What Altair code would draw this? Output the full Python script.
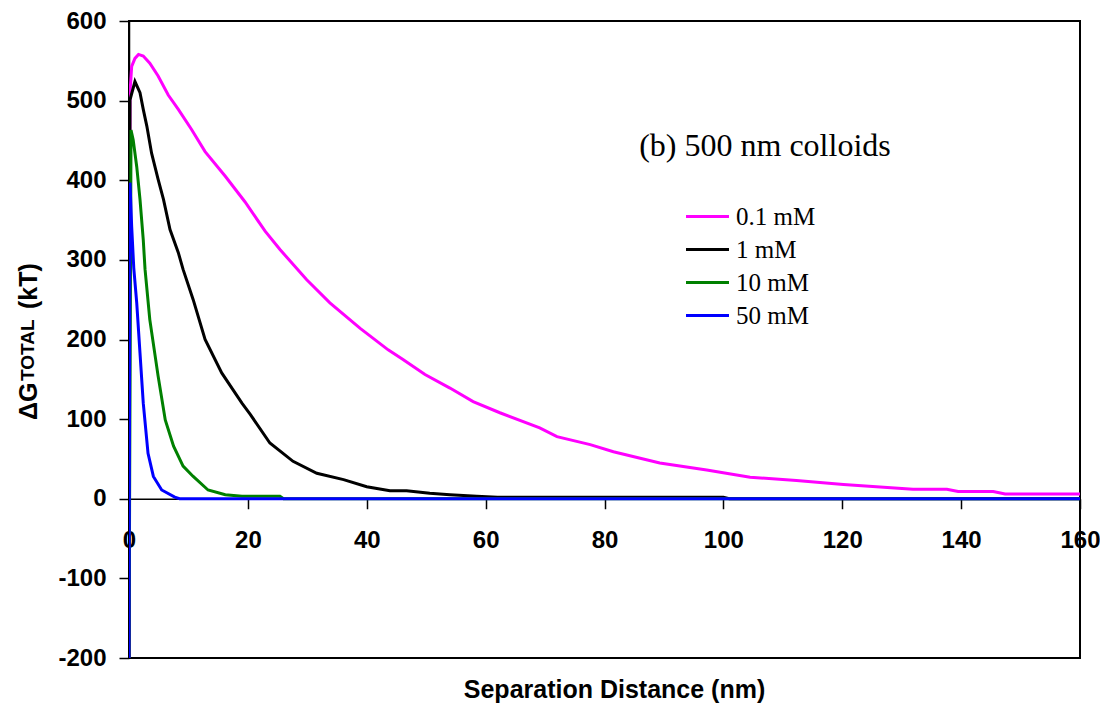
import altair as alt
import pandas as pd

# ---- data ----
series_names = ["0.1 mM", "1 mM", "10 mM", "50 mM"]
series_colors = ["#FF00FF", "#000000", "#008000", "#0000FF"]

x_01 = [0, 0.17, 0.45, 1.0, 1.6, 2.4, 3.5, 4.9, 6.6, 8.3, 10.5, 12.8, 16.2, 19.5, 22.9,
        25.4, 29.9, 33.8, 38.9, 43.6, 46.1, 49.8, 54.0, 57.9, 62.4, 69.1, 72.0, 77.6,
        81.5, 89.3, 97.2, 104.5, 112.3, 120.2, 131.9, 137.6, 139.5, 145.4, 147.4, 157.1, 160]
y_01 = [-200, 510, 543, 553, 558, 556, 547, 531, 507, 489, 464, 436, 405, 373, 336,
        313, 275, 246, 214, 187, 175, 156, 139, 122, 108, 89, 78, 68,
        59, 45, 36, 27, 23, 18, 12, 12, 9, 9, 6, 6, 6]

x_1 = [0, 0.17, 1.0, 1.85, 2.4, 3.0, 3.8, 4.9, 5.8, 6.9, 8.3, 9.1, 10.8, 12.8, 15.6,
       19.0, 20.4, 23.7, 27.6, 31.6, 36.1, 40.0, 43.9, 46.7, 50.6, 54.0, 58.5, 62, 100, 101, 160]
y_1 = [-200, 501, 524, 510, 489, 468, 434, 401, 376, 338, 309, 288, 250, 200, 158,
       120, 106, 70, 47, 32, 24, 15, 10, 10, 7, 5, 3, 2, 2, 0, 0]

x_10 = [0, 0.34, 0.7, 1.3, 1.85, 2.4, 2.7, 3.5, 4.9, 6.1, 7.5, 9.1, 10.8, 13.3, 16.2,
        19.0, 25.4, 26, 160]
y_10 = [-200, 463, 451, 417, 376, 325, 288, 225, 154, 99, 66, 41, 28, 11, 5,
        3, 3, 0, 0]

x_50 = [0, 0.17, 0.45, 0.8, 1.3, 1.85, 2.4, 3.2, 4.1, 5.5, 7.7, 8.5, 160]
y_50 = [-200, 397, 342, 290, 246, 183, 120, 57, 28, 11, 2, 0, 0]

x_ticks = [0, 20, 40, 60, 80, 100, 120, 140, 160]
y_ticks = [-200, -100, 0, 100, 200, 300, 400, 500, 600]

annotation = "(b) 500 nm colloids"
annot_x = [107]
annot_y = [430]

# ---- build table ----
frames = []
for i, (name, xs, ys) in enumerate(zip(series_names, [x_01, x_1, x_10, x_50], [y_01, y_1, y_10, y_50])):
    frames.append(pd.DataFrame({"x": xs, "y": ys, "series": name, "k": i}))
df = pd.concat(frames, ignore_index=True)
df["idx"] = range(len(df))

W, H = 951, 637

xscale = alt.Scale(domain=[0, 160], nice=False, zero=False)
yscale = alt.Scale(domain=[-200, 600], nice=False, zero=False)

lines = alt.Chart(df).mark_line(strokeWidth=3, clip=True).encode(
    x=alt.X("x:Q", scale=xscale, axis=alt.Axis(
        values=x_ticks, title="Separation Distance (nm)", offset=-(H * 200 / 800),
        tickSize=10, labelPadding=20, labelFlush=False, labelOverlap=False,
        titleBaseline="alphabetic", titleY=199, titleX=485, titleAlign="center",
        grid=False)),
    y=alt.Y("y:Q", scale=yscale, axis=alt.Axis(
        values=y_ticks, title=None, tickSize=10, labelPadding=13,
        labelExpr="datum.value < 0 ? '-' + abs(datum.value) : datum.label",
        grid=False)),
    color=alt.Color("series:N", scale=alt.Scale(domain=series_names, range=series_colors),
                    sort=series_names,
                    legend=alt.Legend(title=None, orient="none", legendX=566, legendY=183,
                                      symbolType="M-2,0H2", symbolSize=462, symbolStrokeWidth=3,
                                      labelFont="Liberation Serif", labelFontSize=25,
                                      labelFontWeight="normal", labelColor="#000",
                                      labelOffset=16, rowPadding=7, padding=0)),
    detail="k:O",
    order="idx:Q",
)

annot_df = pd.DataFrame({"x": annot_x, "y": annot_y, "t": [annotation]})
annot = alt.Chart(annot_df).mark_text(font="Liberation Serif", fontSize=32, align="center",
                                      baseline="alphabetic", color="#000").encode(
    x=alt.X("x:Q", scale=xscale), y=alt.Y("y:Q", scale=yscale), text="t:N")

# y-axis title pieces: ΔG, TOTAL (small), (kT)
t1 = alt.Chart(pd.DataFrame({"t": ["\u0394G"]})).mark_text(
    font="Liberation Sans", fontWeight="bold", fontSize=25, angle=270, align="left",
    baseline="alphabetic", color="#000").encode(
    x=alt.value(-92), y=alt.value(399), text="t:N")
t2 = alt.Chart(pd.DataFrame({"t": ["TOTAL"]})).mark_text(
    font="Liberation Sans", fontWeight="bold", fontSize=19, angle=270, align="left",
    baseline="alphabetic", color="#000").encode(
    x=alt.value(-95), y=alt.value(360), text="t:N")
t3 = alt.Chart(pd.DataFrame({"t": ["(kT)"]})).mark_text(
    font="Liberation Sans", fontWeight="bold", fontSize=25, angle=270, align="left",
    baseline="alphabetic", color="#000").encode(
    x=alt.value(-92), y=alt.value(288), text="t:N")

chart = alt.layer(lines, annot, t1, t2, t3).properties(
    width=W, height=H,
    background="white",
    autosize=alt.AutoSizeParams(type="none"),
    padding={"left": 121, "top": 13, "right": 20, "bottom": 50},
).configure_view(
    stroke="#000", strokeWidth=2
).configure_axis(
    domainColor="#000", domainWidth=1.5, tickColor="#000", tickWidth=1.5,
    labelFont="Liberation Sans", labelFontWeight="bold", labelFontSize=24, labelColor="#000",
    titleFont="Liberation Sans", titleFontWeight="bold", titleFontSize=25, titleColor="#000",
)

chart.save("out.html", embed_options={"renderer": "svg", "actions": False})
